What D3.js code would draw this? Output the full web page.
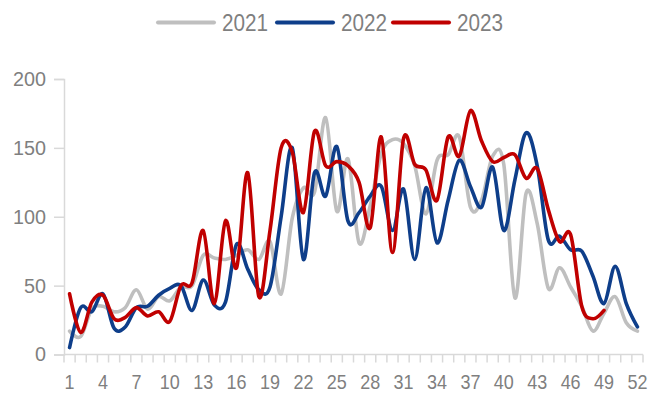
<!DOCTYPE html>
<html>
<head>
<meta charset="utf-8">
<script src="https://cdn.jsdelivr.net/npm/d3@7"></script>
<style>
  html, body { margin: 0; padding: 0; background: #fff; }
  svg { display: block; }
</style>
</head>
<body>
<svg id="chart" width="651" height="394"></svg>
<script>
// ---- data ----
const weeks = d3.range(1, 53);
const seriesNames = ["2021", "2022", "2023"];
const values2021 = [17,13,33,35,31,34,47,33,42,39,49,50,72,70,69,72,76,69,82,44,99,121,118,172,104,142,81,108,146,156,153,137,102,141,145,158,107,112,144,138,41,117,95,48,63,49,35,17,30,42,23,17];
const values2022 = [5,34,31,44,19,20,34,35,43,48,50,32,54,36,38,80,62,47,49,100,150,69,132,115,151,97,103,115,122,90,120,69,121,81,112,141,122,107,136,90,127,161,137,83,86,76,75,57,37,64,37,20];
const values2023 = [44,16,38,43,26,27,34,28,31,24,50,52,90,37,97,63,132,42,90,150,147,103,162,137,140,137,125,92,158,74,157,138,134,112,158,144,177,155,140,143,145,128,135,105,82,87,35,26,32];
const yTicks = [0, 50, 100, 150, 200];
const xLabelWeeks = [1,4,7,10,13,16,19,22,25,28,31,34,37,40,43,46,49,52];
const colors = ["#BFBFBF", "#0E3E8A", "#C00000"];

(function () {
// ---- layout ----
const svg = d3.select("#chart");
const pLeft = 64, pRight = 643, pTop = 79, pBottom = 354.5;
const font = "'Liberation Sans', Arial, sans-serif";
const textColor = "#7F7F7F";
const axisColor = "#D9D9D9";

const x = d3.scaleBand().domain(weeks).range([pLeft, pRight]).padding(0);
const cx = w => x(w) + x.bandwidth() / 2;
const y = d3.scaleLinear().domain([0, 200]).range([pBottom, pTop]);

// y axis
const yAxis = d3.axisLeft(y).tickValues(yTicks).tickSize(10).tickPadding(8);
const gy = svg.append("g").attr("transform", `translate(${pLeft},0)`).call(yAxis);
gy.select(".domain").attr("stroke", axisColor).attr("stroke-width", 1.5);
gy.selectAll(".tick line").attr("stroke", axisColor).attr("stroke-width", 1.5);
gy.selectAll(".tick text").attr("fill", textColor).attr("font-size", 20).attr("font-family", font)
  .attr("textLength", d => String(d).length * 11).attr("lengthAdjust", "spacingAndGlyphs");

// x axis (ticks at band boundaries)
const boundaries = weeks.map(w => x(w)).concat([pRight]);
svg.append("line").attr("x1", pLeft).attr("x2", pRight).attr("y1", pBottom).attr("y2", pBottom)
  .attr("stroke", axisColor).attr("stroke-width", 1.5);
svg.append("g").selectAll("line").data(boundaries).join("line")
  .attr("x1", d => d).attr("x2", d => d).attr("y1", pBottom).attr("y2", pBottom + 8)
  .attr("stroke", axisColor).attr("stroke-width", 1.5);
svg.append("g").selectAll("text").data(xLabelWeeks).join("text")
  .attr("x", d => cx(d)).attr("y", 389)
  .attr("text-anchor", "middle").attr("fill", textColor)
  .attr("font-size", 21).attr("font-family", font)
  .attr("textLength", d => String(d).length * 10).attr("lengthAdjust", "spacingAndGlyphs")
  .text(d => d);

// lines
const allSeries = [values2021, values2022, values2023];
const line = d3.line()
  .x((d, i) => cx(weeks[i]))
  .y(d => y(d))
  .curve(d3.curveCardinal.tension(0));
svg.append("g").selectAll("path").data(allSeries).join("path")
  .attr("d", d => line(d))
  .attr("fill", "none")
  .attr("stroke", (d, i) => colors[i])
  .attr("stroke-width", 3.6)
  .attr("stroke-linejoin", "round")
  .attr("stroke-linecap", "round");

// legend
const legendItems = [
  { name: seriesNames[0], color: colors[0], x: 158 },
  { name: seriesNames[1], color: colors[1], x: 277 },
  { name: seriesNames[2], color: colors[2], x: 393 }
];
const lg = svg.append("g");
legendItems.forEach(it => {
  lg.append("line").attr("x1", it.x).attr("x2", it.x + 56).attr("y1", 22.5).attr("y2", 22.5)
    .attr("stroke", it.color).attr("stroke-width", 4).attr("stroke-linecap", "round");
  lg.append("text").attr("x", it.x + 64).attr("y", 31)
    .attr("fill", textColor).attr("font-size", 23).attr("font-family", font)
    .attr("textLength", 46).attr("lengthAdjust", "spacingAndGlyphs")
    .text(it.name);
});
})();
</script>
</body>
</html>
